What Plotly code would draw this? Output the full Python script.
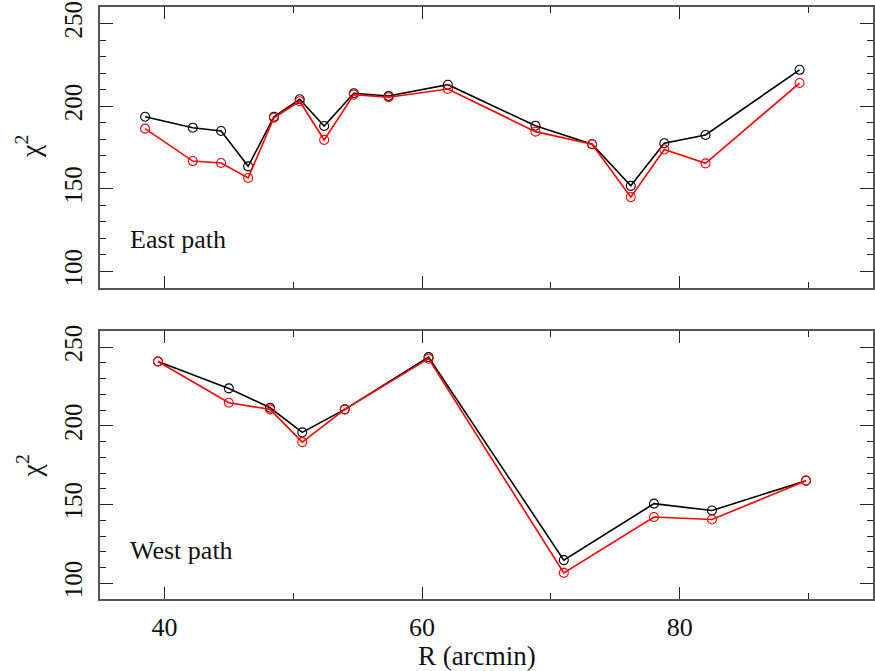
import plotly.graph_objects as go
from plotly.subplots import make_subplots

# East path
east_r = [38.5, 42.2, 44.4, 46.5, 48.5, 50.5, 52.4, 54.7, 57.4, 62.0, 68.8, 73.2, 76.2, 78.8, 82.0, 89.3]
east_black = [193.6, 187.0, 185.0, 163.6, 193.6, 204.2, 188.0, 207.8, 206.2, 213.0, 188.2, 177.0, 151.8, 177.6, 182.6, 222.0]
east_red = [186.4, 166.8, 165.6, 156.6, 193.0, 203.0, 179.6, 207.0, 205.4, 210.4, 184.6, 177.0, 145.0, 173.8, 165.4, 214.0]

# West path
west_r = [39.5, 45.0, 48.2, 50.7, 54.0, 60.5, 71.0, 78.0, 82.5, 89.8]
west_black = [240.9, 223.8, 211.5, 195.9, 210.5, 243.7, 114.7, 150.6, 146.2, 165.2]
west_red = [240.9, 214.7, 210.5, 189.7, 210.5, 242.7, 106.6, 142.1, 140.5, 165.2]

panel_labels = ["East path", "West path"]
x_title = "R (arcmin)"
y_title = "χ<sup>2</sup>"

FONT = "Liberation Serif"

fig = make_subplots(rows=2, cols=1, shared_xaxes=False, vertical_spacing=0.0)

def add_pair(row, xs, yb, yr):
    fig.add_trace(go.Scatter(x=xs, y=yb, mode="lines+markers",
                             line=dict(color="#000000", width=1.6),
                             marker=dict(symbol="circle-open", size=9, color="#000000", line=dict(width=1.1)),
                             showlegend=False), row=row, col=1)
    fig.add_trace(go.Scatter(x=xs, y=yr, mode="lines+markers",
                             line=dict(color="#ff0000", width=1.6),
                             marker=dict(symbol="circle-open", size=9, color="#ff0000", line=dict(width=1.1)),
                             showlegend=False), row=row, col=1)

add_pair(1, east_r, east_black, east_red)
add_pair(2, west_r, west_black, west_red)

H_TOTAL = 593.0
top_dom = [(599 - 287.5) / H_TOTAL, 1.0]
bot_dom = [0.0, (599 - 331) / H_TOTAL]

axis_common = dict(
    range=[35, 95], showgrid=False, zeroline=False,
    showline=True, linecolor="#555555", linewidth=1.5, mirror="allticks",
    ticks="inside", ticklen=12, tickwidth=1.2, tickcolor="#222222",
    tick0=0, dtick=20,
    minor=dict(ticks="inside", ticklen=6, tickwidth=1.2, tickcolor="#222222", dtick=10, tick0=0, showgrid=False),
    tickfont=dict(family=FONT, size=26, color="#111111"),
    ticklabelstandoff=4,
)
yaxis_common = dict(
    range=[90, 260], showgrid=False, zeroline=False,
    showline=True, linecolor="#555555", linewidth=1.5, mirror="allticks",
    ticks="inside", ticklen=13, tickwidth=1.2, tickcolor="#222222",
    tick0=0, dtick=50, tickangle=-90,
    minor=dict(ticks="inside", ticklen=6.5, tickwidth=1.2, tickcolor="#222222", dtick=10, tick0=0, showgrid=False),
    tickfont=dict(family=FONT, size=25, color="#111111"),
    ticklabelstandoff=6,
)

fig.update_xaxes(**axis_common)
fig.update_yaxes(**yaxis_common)
fig.update_xaxes(showticklabels=False, row=1, col=1)
fig.update_yaxes(domain=top_dom, row=1, col=1)
fig.update_yaxes(domain=bot_dom, row=2, col=1)

annotations = [
    dict(text=panel_labels[0], x=37.2, y=119.6, xref="x", yref="y", xanchor="left", yanchor="middle",
         showarrow=False, font=dict(family=FONT, size=26, color="#111111")),
    dict(text=panel_labels[1], x=37.2, y=121.0, xref="x2", yref="y2", xanchor="left", yanchor="middle",
         showarrow=False, font=dict(family=FONT, size=26, color="#111111")),
    dict(text=x_title, x=(478 - 100) / 775.0, y=(599 - 656) / H_TOTAL, xref="paper", yref="paper",
         xanchor="center", yanchor="middle", showarrow=False,
         font=dict(family=FONT, size=27, color="#111111")),
    dict(text=y_title, x=(29 - 100) / 775.0, y=(599 - 146) / H_TOTAL, xref="paper", yref="paper",
         xanchor="center", yanchor="middle", showarrow=False, textangle=-90,
         font=dict(family=FONT, size=28, color="#111111")),
    dict(text=y_title, x=(29 - 100) / 775.0, y=(599 - 466) / H_TOTAL, xref="paper", yref="paper",
         xanchor="center", yanchor="middle", showarrow=False, textangle=-90,
         font=dict(family=FONT, size=28, color="#111111")),
]

fig.update_layout(
    width=875, height=671,
    margin=dict(l=100, r=0, t=6, b=72),
    paper_bgcolor="white", plot_bgcolor="white",
    annotations=annotations,
    font=dict(family=FONT),
)

fig.write_html("out.html", config={"displayModeBar": False})

# remove default browser body margin so the figure sits at the window origin
with open("out.html", "r", encoding="utf-8") as f:
    html = f.read()
html = html.replace("<head>", "<head><style>html,body{margin:0;padding:0;overflow:hidden;}</style>", 1)
with open("out.html", "w", encoding="utf-8") as f:
    f.write(html)
